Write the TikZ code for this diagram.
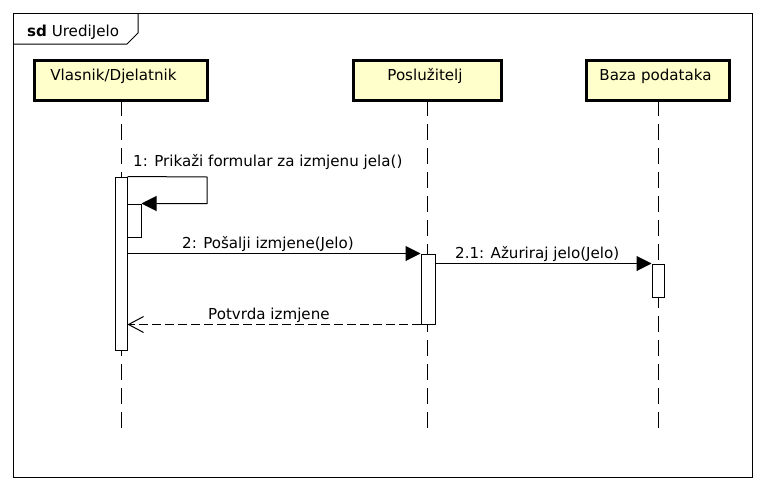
\documentclass[tikz,border=0pt]{standalone}
\usepackage{fontspec}
\setmainfont{DejaVu Sans}
\usetikzlibrary{arrows.meta}
\definecolor{actfill}{HTML}{FFFFCC}
\tikzset{
  actor/.style={draw, line width=3pt, fill=actfill, minimum height=40pt, inner sep=0pt},
  actlabel/.style={anchor=base, inner sep=0pt},
  lifeline/.style={line width=1pt, dash pattern=on 16pt off 8pt},
  activation/.style={draw, line width=1pt, fill=white, minimum width=12pt, inner sep=0pt},
  nested/.style={draw, line width=1pt, fill=white, minimum width=14pt, inner sep=0pt},
  msg/.style={line width=1pt, -{Triangle[length=15pt,width=15pt]}},
  ret/.style={line width=1pt, dash pattern=on 9pt off 4pt, -{Straight Barb[length=15pt,width=16pt]}},
  lbl/.style={anchor=base west, inner sep=0pt},
  frame/.style={draw, line width=1pt}
}
\begin{document}
\begin{tikzpicture}[x=1pt,y=-1pt, font=\fontsize{15.1}{18}\selectfont]
\useasboundingbox (0,0) rectangle (765,490);
% frame
\draw[frame] (13,13) rectangle (752,477);
\draw[frame] (13,44) -- (127,44) -- (138,33) -- (138,13);
\node[lbl] (title) at (27,36) {\textbf{sd} UrediJelo};
% actors
\node[actor, minimum width=173pt] (vl) at (120.5,80) {};
\node[actlabel] at (113.5,80) {Vlasnik/Djelatnik};
\node[actor, minimum width=148pt] (po) at (427,80) {};
\node[actlabel] at (425,80) {Poslužitelj};
\node[actor, minimum width=143pt] (bp) at (657.5,80) {};
\node[actlabel] at (655.5,80) {Baza podataka};
% lifeline ends
\coordinate (vlend) at (121,428);
\coordinate (poend) at (427,428);
\coordinate (bpend) at (658,428);
\draw[lifeline] (121,100) -- (vlend);
\draw[lifeline] (427,100) -- (poend);
\draw[lifeline] (658,100) -- (bpend);
% activations
\node[activation, minimum height=173pt] (a1) at (121,263.5) {};
\node[nested, minimum height=33pt] (a2) at (134,220.5) {};
\node[activation, minimum width=14pt, minimum height=70pt] (a3) at (428,289) {};
\node[activation, minimum height=33pt] (a4) at (658,280.5) {};
% messages
\coordinate (selfr) at (207,177);
\draw[msg] (a1.north east) -- (selfr) |- (a2.north east);
\node[lbl] (m1) at (133,166) {1: Prikaži formular za izmjenu jela()};
\draw[msg] (a1.east |- a3.north west) -- (a3.north west);
\node[lbl] (m2) at (182,248) {2: Pošalji izmjene(Jelo)};
\draw[msg] (a3.east |- a4.north west) -- (a4.north west);
\node[lbl] (m3) at (455,258) {2.1: Ažuriraj jelo(Jelo)};
\draw[ret] (a3.south west) -- (a1.east |- a3.south west);
\node[lbl] (m4) at (208,319) {Potvrda izmjene};
\end{tikzpicture}
\end{document}
